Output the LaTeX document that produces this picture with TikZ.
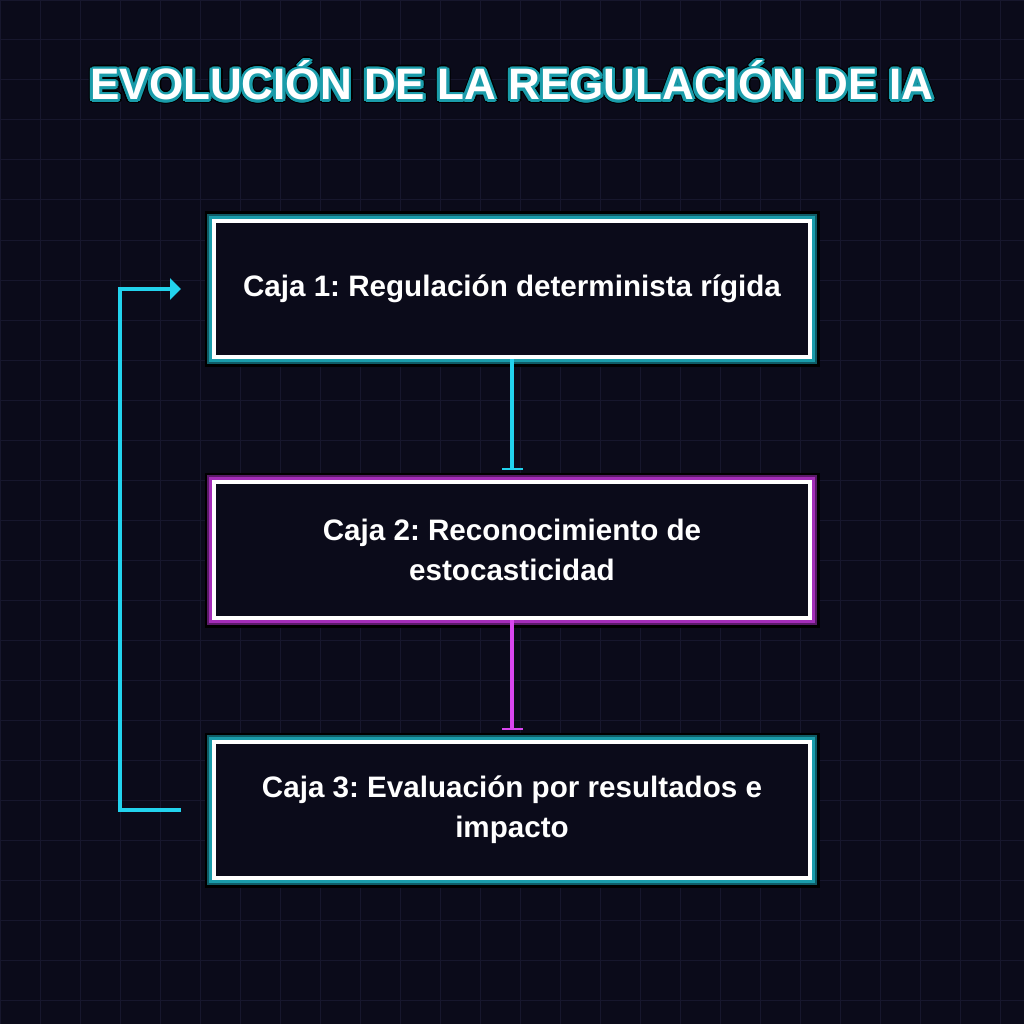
\documentclass[tikz,border=0pt]{standalone}
\usepackage{fontspec}
\setmainfont{Liberation Sans}
\usepackage{tikz}
\usetikzlibrary{arrows.meta,calc}
\usepackage{contour}
\definecolor{nightbg}{HTML}{0B0B1A}
\definecolor{gridgray}{HTML}{17172D}
\definecolor{neoncyan}{HTML}{22D3EE}
\definecolor{neonpink}{HTML}{D946EF}
\definecolor{glowteal}{HTML}{1A9CAA}
\definecolor{glowtealdk}{HTML}{0F5C66}
\definecolor{glowpink}{HTML}{A42DB8}
\definecolor{glowpinkdk}{HTML}{5A1A68}
\newcommand{\titletext}{EVOLUCIÓN DE LA REGULACIÓN DE IA}
\frenchspacing

\begin{document}
\begin{tikzpicture}[x=1pt,y=-1pt,
  box/.style={draw=white,line width=4pt,fill=nightbg,minimum width=596pt,
    minimum height=136pt,text width=560pt,inner sep=4pt,align=flush center,text=white,
    font=\fontsize{29.6}{40}\selectfont\bfseries},
  tealglow/.style={preaction={draw=black,line width=19pt},
    preaction={draw=glowtealdk,line width=14pt},
    preaction={draw=glowteal,line width=10pt}},
  pinkglow/.style={preaction={draw=black,line width=19pt},
    preaction={draw=glowpinkdk,line width=14pt},
    preaction={draw=glowpink,line width=10pt}},
  titlefont/.style={font=\fontsize{44}{50}\selectfont\bfseries,anchor=base},
  flow/.style={-{Bar[width=21pt,line width=2.5pt]},line width=4pt,shorten >=10pt},
  loopflow/.style={-{Triangle[length=11pt,width=21pt]},line width=4pt,neoncyan}]
\useasboundingbox (0,0) rectangle (1024,1024);
\fill[nightbg] (0,0) rectangle (1024,1024);
\draw[gridgray,line width=1pt] (0,0) grid[step=40pt] (1024,1024);

% title with a dark rim and a teal glow
\node[titlefont,text=black] (titlerim) at (512,100)
  {\contourlength{4pt}\contour{black}{\titletext}};
\node[titlefont,text=white] (title) at (512,100)
  {\contourlength{2.8pt}\contour{glowteal}{\titletext}};

\node[box,tealglow] (caja1) at (512,289) {Caja 1: Regulación determinista rígida};
\node[box,pinkglow] (caja2) at (512,550) {Caja 2: Reconocimiento de estocasticidad};
\node[box,tealglow] (caja3) at (512,810) {Caja 3: Evaluación por resultados e impacto};

\draw[flow,neoncyan] (caja1.south) -- (caja2.north);
\draw[flow,neonpink] (caja2.south) -- (caja3.north);
\draw[loopflow] ([xshift=-31pt]caja3.west) -- ++(-61,0) |- ([xshift=-31pt]caja1.west);
\end{tikzpicture}
\end{document}
